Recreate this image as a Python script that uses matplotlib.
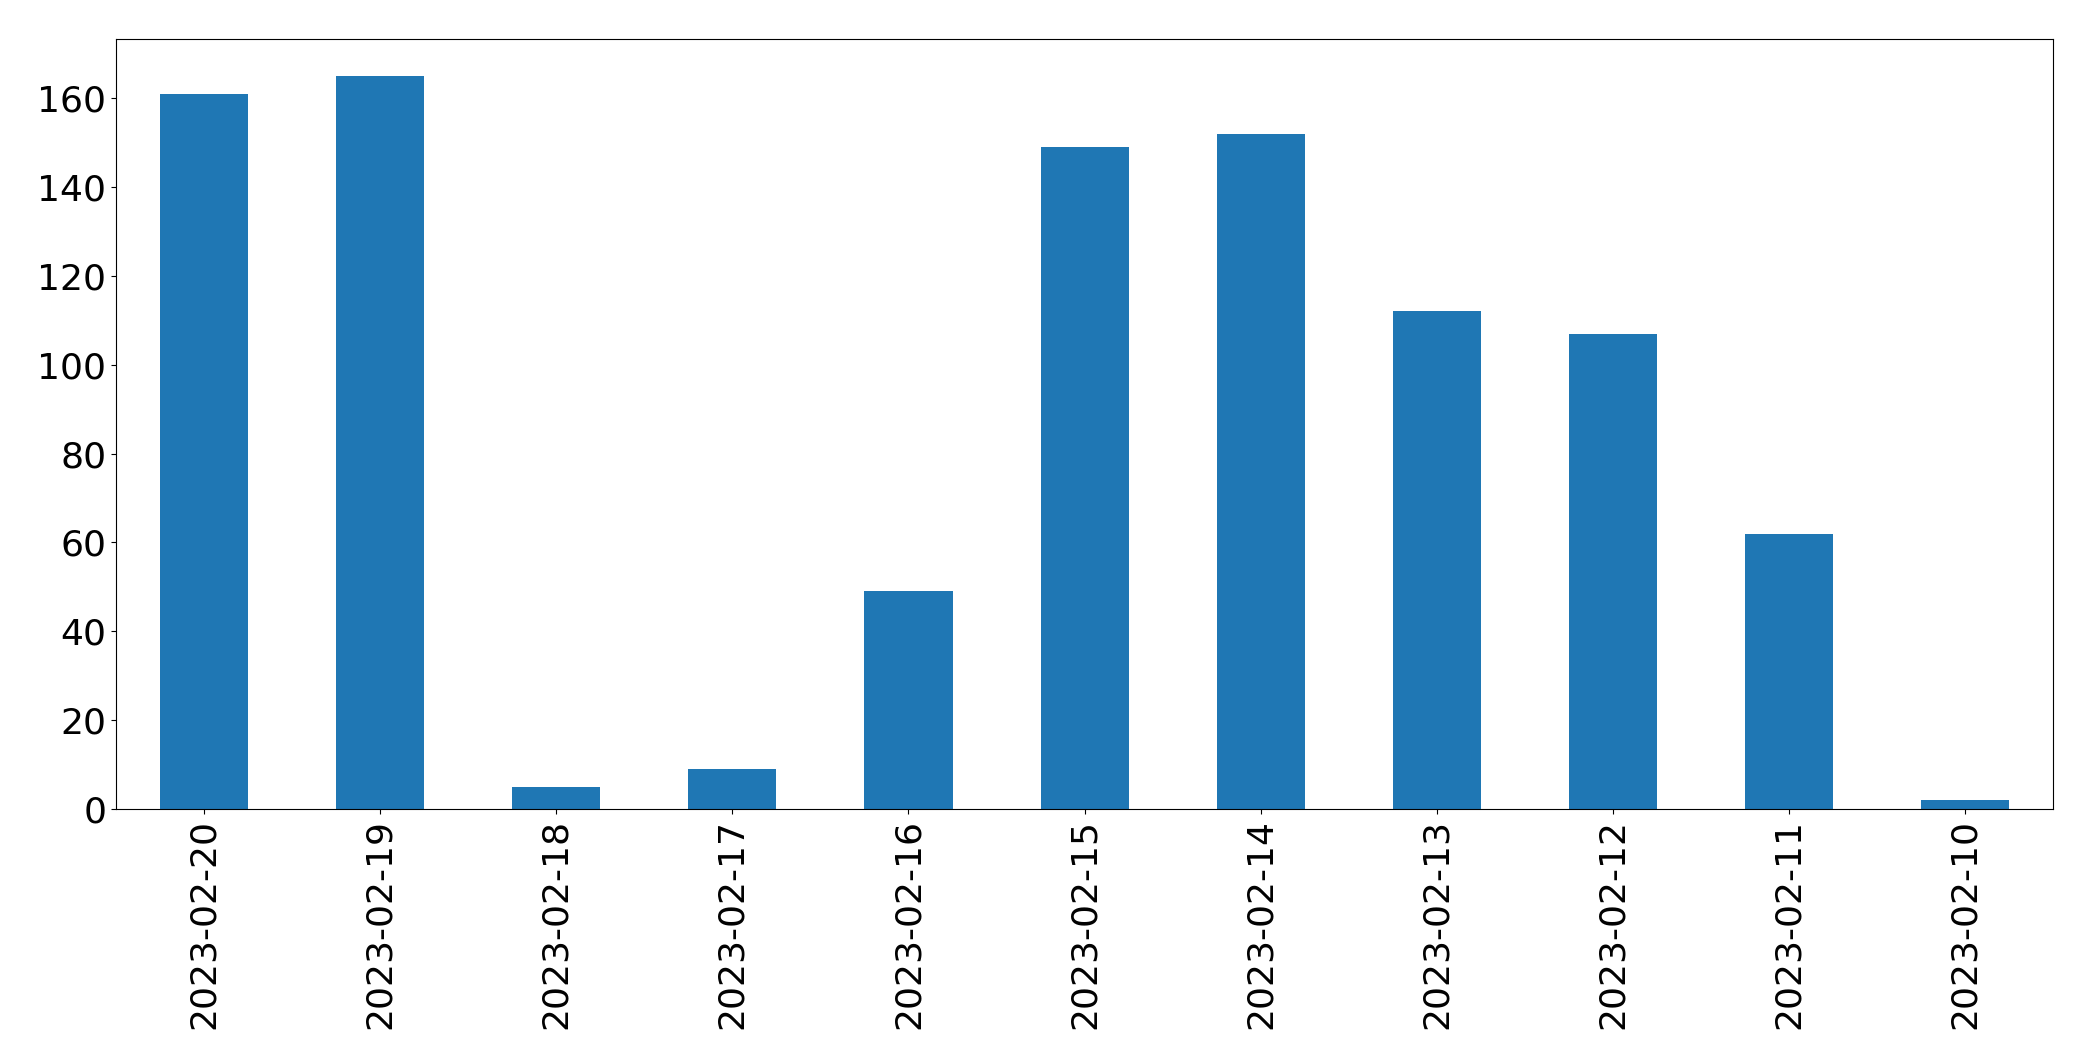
import matplotlib
matplotlib.use("Agg")
import matplotlib.pyplot as plt

dates = ["2023-02-20", "2023-02-19", "2023-02-18", "2023-02-17", "2023-02-16",
         "2023-02-15", "2023-02-14", "2023-02-13", "2023-02-12", "2023-02-11",
         "2023-02-10"]
counts = [161, 165, 5, 9, 49, 149, 152, 112, 107, 62, 2]

fig = plt.figure(figsize=(20.93, 10.61), dpi=100)
ax = fig.add_axes([0.0554, 0.2375, 0.9256, 0.7255])
x = list(range(len(dates)))
ax.bar(x, counts, width=0.5, color="#1f77b4")
ax.set_xlim(-0.5, len(dates) - 0.5)
ax.set_xticks(x)
ax.set_xticklabels(dates, rotation=90)
ax.tick_params(axis="both", labelsize=26)
ax.set_yticks(range(0, 161, 20))
fig.savefig("out.png", dpi=100)
